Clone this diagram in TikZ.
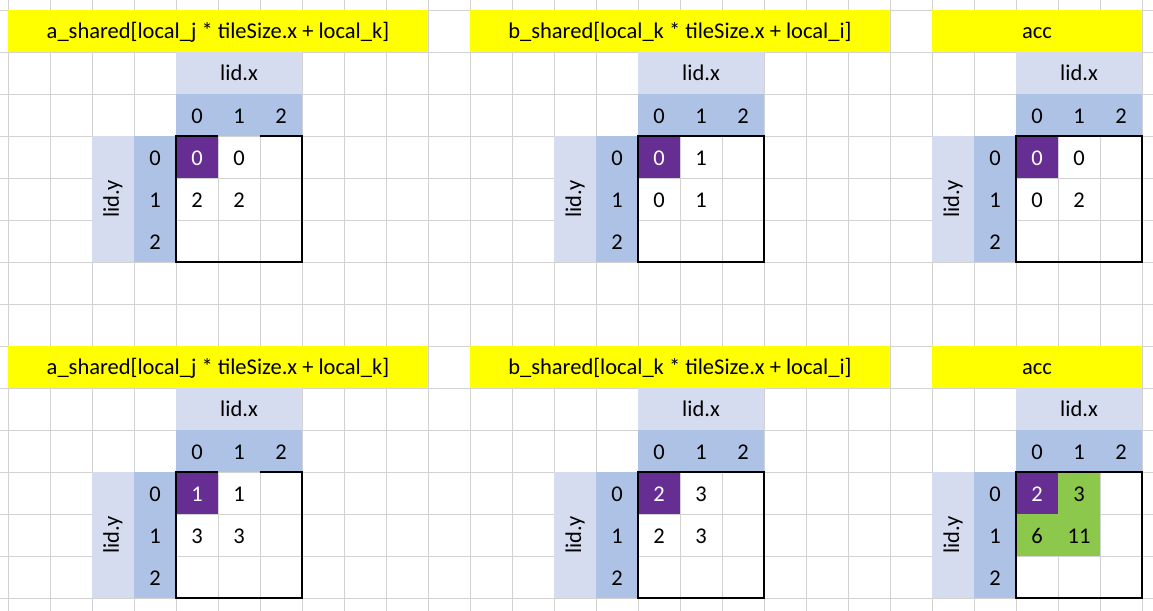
\documentclass[tikz,border=0pt]{standalone}
\usepackage{fontspec}
\setmainfont{Carlito}
\usetikzlibrary{calc}

\definecolor{headyellow}{HTML}{FFFF00}
\definecolor{lidlight}{HTML}{D5DCEF}
\definecolor{lidmid}{HTML}{AEC2E5}
\definecolor{cellpurple}{HTML}{662E93}
\definecolor{cellgreen}{HTML}{8CC84B}
\definecolor{gridgray}{HTML}{D2D2D2}

\begin{document}
\begin{tikzpicture}[x=42pt, y=-42pt,
		gridline/.style={draw=gridgray, line width=0.9pt},
		celltext/.style={font=\fontsize{22.5}{27}\selectfont, inner sep=0pt, anchor=base},
		tileborder/.style={draw=black, line width=2pt},
	]
		\useasboundingbox (-8/42,-10/42) rectangle (1145/42,600/42);
		
		% sheet grid
		\foreach \c in {0,...,27}{
			\draw[gridline] (\c,-0.3) -- (\c,14.4);
		}
		\foreach \r in {0,...,14}{
			\draw[gridline] (-0.3,\r) -- (27.4,\r);
		}
		
		% updated acc cells
		\fill[cellgreen] (24,11) rectangle (26,13);
		
		\foreach \blk/\hs/\he/\dc/\R/\head/\va/\vb/\vc/\vd/\gap in {
			1/0/10/4/0/{a\_shared[local\_j * tileSize.x + local\_k]}/0/0/2/2/1,
			2/11/21/15/0/{b\_shared[local\_k * tileSize.x + local\_i]}/0/1/0/1/0,
			3/22/27/24/0/{acc}/0/0/0/2/0,
			4/0/10/4/8/{a\_shared[local\_j * tileSize.x + local\_k]}/1/1/3/3/1,
			5/11/21/15/8/{b\_shared[local\_k * tileSize.x + local\_i]}/2/3/2/3/0,
			6/22/27/24/8/{acc}/2/3/6/11/0}{
			
			\fill[headyellow] (\hs,\R) rectangle (\he,\R+1);
			\fill[lidlight] (\dc,\R+1) rectangle (\dc+3,\R+2);
			\fill[lidlight] (\dc-2,\R+3) rectangle (\dc-1,\R+6);
			\fill[lidmid] (\dc,\R+2) rectangle (\dc+3,\R+3);
			\fill[lidmid] (\dc-1,\R+3) rectangle (\dc,\R+6);
			\fill[cellpurple] (\dc,\R+3) rectangle (\dc+1,\R+4);
			
			% tile border
			\draw[tileborder] (\dc+1,\R+3) -- (\dc,\R+3) -- (\dc,\R+6) -- (\dc+3,\R+6) -- (\dc+3,\R+3) -- (\dc+2,\R+3);
			\ifnum\gap=0 \draw[tileborder] (\dc+1,\R+3) -- (\dc+2,\R+3); \fi
			
			\node[celltext] (head-\blk) at ({(\hs+\he)/2},\R+0.68) {\head};
			\node[celltext] (lidx-\blk) at (\dc+1.5,\R+1.69) {lid.x};
			\node[celltext, anchor=center, rotate=90] (lidy-\blk) at (\dc-1.5,\R+4.5) {lid.y};
			
			\foreach \i in {0,1,2}{
				\node[celltext] (colidx-\blk-\i) at (\dc+\i+0.5,\R+2.71) {\i};
				\node[celltext] (rowidx-\blk-\i) at (\dc-0.5,\R+\i+3.71) {\i};
			}
			
			\node[celltext, text=white] (val-\blk-0-0) at (\dc+0.5,\R+3.71) {\va};
			\node[celltext] (val-\blk-1-0) at (\dc+1.5,\R+3.71) {\vb};
			\node[celltext] (val-\blk-0-1) at (\dc+0.5,\R+4.71) {\vc};
			\node[celltext] (val-\blk-1-1) at (\dc+1.5,\R+4.71) {\vd};
		}
		
	\end{tikzpicture}
\end{document}
